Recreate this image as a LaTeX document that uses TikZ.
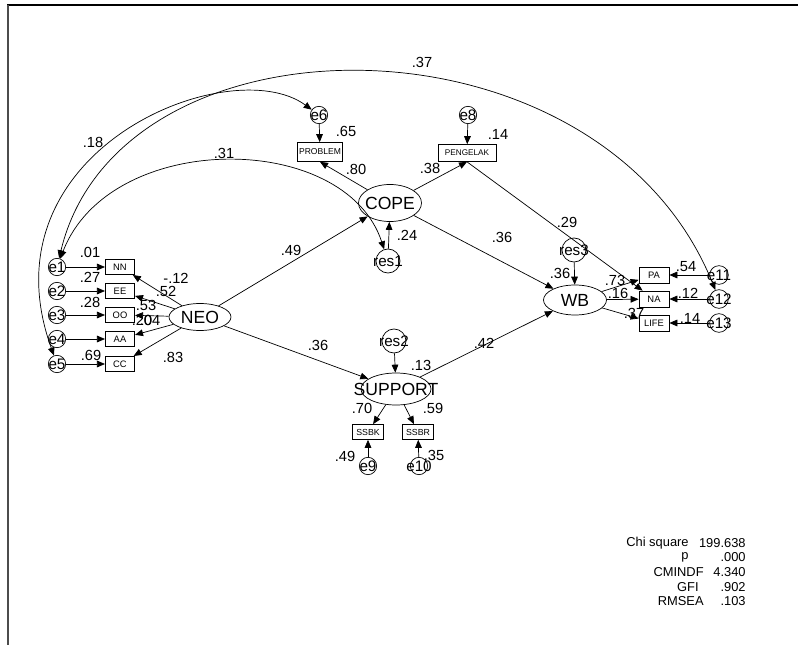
\documentclass[tikz,border=0pt]{standalone}
\usepackage{fontspec}
\setmainfont{Liberation Sans}
\usetikzlibrary{arrows.meta,shapes.geometric}

\begin{document}
\begin{tikzpicture}[x=0.03cm,y=-0.03cm,line width=0.6pt,
        arr/.style={-{Triangle[length=2.4mm,width=2mm]}},
        cov/.style={{Triangle[length=2.4mm,width=2mm]}-{Triangle[length=2.4mm,width=2mm]}},
        obs/.style={draw,rectangle,inner sep=0pt,minimum width=0.88cm,minimum height=0.46cm,font=\fontsize{8}{9}\selectfont},
        lat/.style={draw,ellipse,inner sep=0pt,label={[latlab]center:#1}},
        latlab/.style={font=\fontsize{15}{17}\selectfont,inner sep=0pt},
        err/.style={draw,circle,inner sep=0pt,minimum size=0.52cm,label={[elab]center:#1}},
        res/.style={draw,circle,inner sep=0pt,minimum size=0.72cm,label={[elab]center:#1}},
        elab/.style={font=\fontsize{13}{15}\selectfont,inner sep=0pt},
        est/.style={font=\fontsize{12.5}{14}\selectfont,inner sep=0pt},
        gof/.style={font=\fontsize{11}{13}\selectfont,inner sep=0pt,anchor=east}]
        \useasboundingbox (0,0) rectangle (798,645);
        \draw[line width=1.2pt] (7,5) -- (798,5);
        \draw[line width=1.5pt,black!70] (8,5) -- (8,645);

        \node[lat=NEO,minimum width=1.86cm,minimum height=0.81cm] (neo) at (200,317) {};
        \node[lat=COPE,minimum width=1.89cm,minimum height=1.11cm] (cope) at (390,203) {};
        \node[lat=SUPPORT,minimum width=2.1cm,minimum height=0.96cm] (support) at (396,389) {};
        \node[lat=WB,minimum width=1.89cm,minimum height=0.9cm] (wb) at (575,300) {};

        \node[obs] (nn) at (120,267) {NN};
        \node[obs] (ee) at (120,291) {EE};
        \node[obs] (oo) at (120,315) {OO};
        \node[obs] (aa) at (120,339) {AA};
        \node[obs] (cc) at (120,364) {CC};
        \node[err=e1] (e1) at (57,267) {};
        \node[err=e2] (e2) at (57,291) {};
        \node[err=e3] (e3) at (57,315) {};
        \node[err=e4] (e4) at (57,339) {};
        \node[err=e5] (e5) at (57,364) {};

        \node[obs,minimum width=1.35cm,minimum height=0.57cm,font=\fontsize{7.3}{8}\selectfont] (problem) at (320,152) {PROBLEM};
        \node[obs,minimum width=1.74cm,minimum height=0.51cm,font=\fontsize{7}{8}\selectfont] (pengelak) at (467,153) {PENGELAK};
        \node[err=e6] (e6) at (319,115) {};
        \node[err=e8] (e8) at (468,115) {};
        \node[res=res1] (res1) at (388,261) {};

        \node[res=res2] (res2) at (394,341) {};
        \node[obs,minimum width=0.93cm,minimum height=0.45cm,font=\fontsize{7.5}{8}\selectfont] (ssbk) at (368,432) {SSBK};
        \node[obs,minimum width=0.93cm,minimum height=0.45cm,font=\fontsize{7.5}{8}\selectfont] (ssbr) at (418,432) {SSBR};
        \node[err=e9] (e9) at (368,466) {};
        \node[err=e10] (e10) at (419,466) {};

        \node[res=res3] (res3) at (574,250) {};
        \node[obs,minimum width=0.9cm,minimum height=0.48cm] (pa) at (654,275) {PA};
        \node[obs,minimum width=0.9cm,minimum height=0.48cm] (na) at (654,299) {NA};
        \node[obs,minimum width=0.9cm,minimum height=0.48cm] (life) at (654,323) {LIFE};
        \node[err=e11,minimum size=0.56cm] (e11) at (719,275) {};
        \node[err=e12,minimum size=0.56cm] (e12) at (719,299) {};
        \node[err=e13,minimum size=0.56cm] (e13) at (719,323) {};

        \foreach \e/\b in {e1/nn,e2/ee,e3/oo,e4/aa,e5/cc} {
            \draw[arr] (\e) -- (\b);
            \draw[arr] (neo) -- (\b);
        }
        \draw[arr] (neo) -- (cope);
        \draw[arr] (neo) -- (support);
        \draw[arr] (res1) -- (cope);
        \draw[arr] (res2) -- (support);
        \draw[arr] (res3) -- (wb);
        \draw[arr] (cope) -- (problem.south);
        \draw[arr] (cope) -- (pengelak.south);
        \draw[arr] (e6) -- (problem);
        \draw[arr] (e8) -- (pengelak);
        \draw[arr] (cope) -- (wb);
        \draw[arr] (support) -- (wb);
        \draw[arr] (support) -- (ssbk);
        \draw[arr] (support) -- (ssbr);
        \draw[arr] (e9) -- (ssbk);
        \draw[arr] (e10) -- (ssbr);
        \draw[arr] (pengelak.south) -- (na);
        \draw[arr] (wb) -- (pa);
        \draw[arr] (wb) -- (na);
        \draw[arr] (wb) -- (life);
        \draw[arr] (e11) -- (pa);
        \draw[arr] (e12) -- (na);
        \draw[arr] (e13) -- (life);

        \draw[cov] (e1) .. controls (120,5) and (600,5) .. (e12);
        \draw[cov] (e1) .. controls (110,130) and (345,130) .. (res1);
        \draw[cov] (e6) .. controls (230,50) and (-20,150) .. (e5);

        \node[est] (c37) at (422,62) {.37};
        \node[est] (c18) at (93,142) {.18};
        \node[est] (c31) at (224,153) {.31};

        \node[est] (r01) at (90,252) {.01};
        \node[est] (r27) at (90,277) {.27};
        \node[est] (r28) at (90,302) {.28};
        \node[est] (r69) at (91,355) {.69};
        \node[est] (lnn) at (176,278) {-.12};
        \node[est] (lee) at (166,291) {.52};
        \node[est] (loo) at (146,305) {.53};
        \node[est] (laa) at (142,320) {.20};
        \node[est] (raa) at (150,320) {.04};
        \node[est] (lcc) at (173,357) {.83};

        \node[est] (rprob) at (346,131) {.65};
        \node[est] (lprob) at (356,169) {.80};
        \node[est] (rpeng) at (498,134) {.14};
        \node[est] (lpeng) at (430,168) {.38};
        \node[est] (rcope) at (407,235) {.24};
        \node[est] (bcw) at (502,237) {.36};
        \node[est] (bnc) at (291,250) {.49};
        \node[est] (bpn) at (567,222) {.29};

        \node[est] (bns) at (318,345) {.36};
        \node[est] (rsup) at (421,365) {.13};
        \node[est] (bsw) at (484,343) {.42};
        \node[est] (lssbk) at (362,408) {.70};
        \node[est] (lssbr) at (433,408) {.59};
        \node[est] (rssbk) at (345,456) {.49};
        \node[est] (rssbr) at (434,455) {.35};

        \node[est] (rwb) at (560,273) {.36};
        \node[est] (lpa) at (615,280) {.73};
        \node[est] (lna) at (618,293) {.16};
        \node[est] (llife) at (634,313) {.37};
        \node[est] (rpa) at (686,267) {.54};
        \node[est] (rna) at (688,293) {.12};
        \node[est] (rlife) at (690,318) {.14};

        \node[gof] (chi) at (689,543) {Chi square};
        \node[gof] (chiv) at (746,543) {199.638};
        \node[gof] (pp) at (689,557) {p};
        \node[gof] (ppv) at (746,557) {.000};
        \node[gof] (cmindf) at (704,572) {CMINDF};
        \node[gof] (cmindfv) at (746,572) {4.340};
        \node[gof] (gfi) at (699,587) {GFI};
        \node[gof] (gfiv) at (746,587) {.902};
        \node[gof] (rmsea) at (704,601) {RMSEA};
        \node[gof] (rmseav) at (746,601) {.103};
    \end{tikzpicture}
\end{document}
